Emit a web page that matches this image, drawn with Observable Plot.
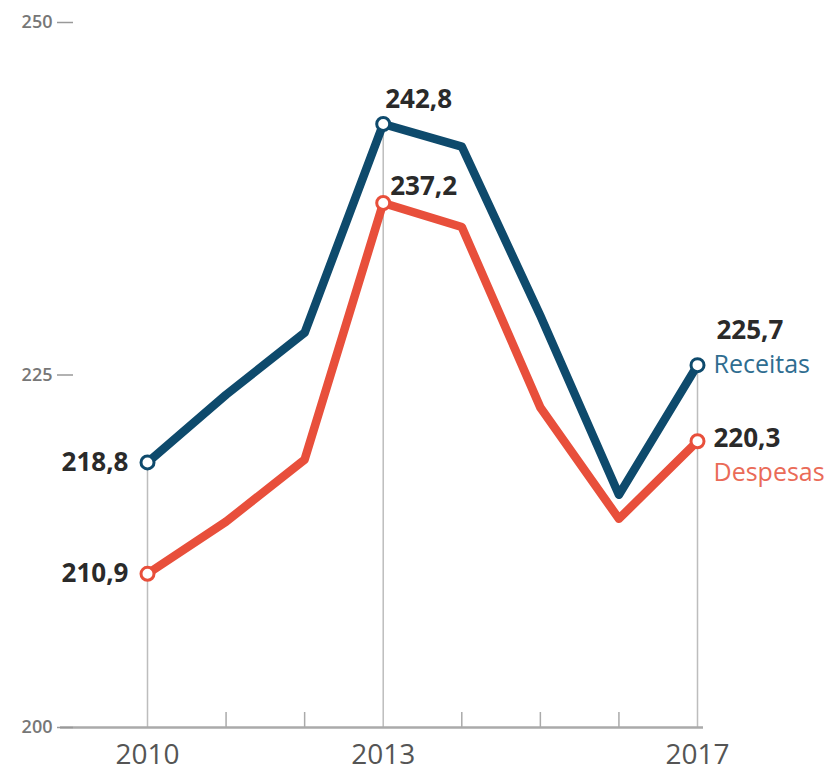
<!DOCTYPE html>
<html><head><meta charset="utf-8">
<script src="https://cdn.jsdelivr.net/npm/d3@7"></script>
<script src="https://cdn.jsdelivr.net/npm/@observablehq/plot@0.6"></script>
<style>body{margin:0;background:#fff;} #chart svg{display:block}</style>
</head><body><div id="chart"></div>
<script>
const years = [2010, 2011, 2012, 2013, 2014, 2015, 2016, 2017];
const receitas = [218.8, 223.6, 228.0, 242.8, 241.2, 229.2, 216.5, 225.7];
const despesas = [210.9, 214.6, 219.0, 237.2, 235.5, 222.7, 214.8, 220.3];
const yTicks = [200, 225, 250];
const labeledYears = [2010, 2013, 2017];
const minorYears = [2011, 2012, 2014, 2015, 2016];
const seriesNames = ["Receitas", "Despesas"];
const colors = ["#0e4a6c", "#e84f3b"];
const nameColors = ["#2f6d90", "#ea6b58"];

const fmt = v => v.toFixed(1).replace(".", ",");
const idx = y => years.indexOf(y);
const lab = "#2a2a2a";
const FS = 26;

const chart = Plot.plot({
  width: 833, height: 774,
  marginTop: 22, marginBottom: 47, marginLeft: 147, marginRight: 136,
  x: {domain: [2010, 2017]},
  y: {domain: [200, 250]},
  style: {fontFamily: "'Open Sans', sans-serif", background: "#fff"},
  marks: [
    Plot.ruleX(labeledYears, {x: d => d, y1: 200, y2: d => receitas[idx(d)], stroke: "#bdbdbd", strokeWidth: 1.5}),
    Plot.ruleX(minorYears, {x: d => d, y1: 200, y2: 200, insetTop: -15, stroke: "#aaa", strokeWidth: 1.5}),
    Plot.ruleY([200], {insetLeft: -87, insetRight: -6, stroke: "#aaa", strokeWidth: 2.5}),
    Plot.axisY({ticks: yTicks, tickSize: 16, tickPadding: 5, dx: -74, fontSize: 18, fontWeight: 600, fill: "#777", stroke: "#999", strokeWidth: 1.5}),
    Plot.axisX({ticks: labeledYears, tickFormat: d => String(d), tickSize: 0, tickPadding: 17, fontSize: 28, fill: "#555"}),
    Plot.line(years, {x: years, y: receitas, stroke: colors[0], strokeWidth: 8.5, strokeLinejoin: "round"}),
    Plot.line(years, {x: years, y: despesas, stroke: colors[1], strokeWidth: 8.5, strokeLinejoin: "round"}),
    Plot.dot(labeledYears, {x: d => d, y: d => receitas[idx(d)], r: 6.5, fill: "white", stroke: colors[0], strokeWidth: 3}),
    Plot.dot(labeledYears, {x: d => d, y: d => despesas[idx(d)], r: 6.5, fill: "white", stroke: colors[1], strokeWidth: 3}),
    // 2010 labels
    Plot.text([2010], {x: d => d, y: d => receitas[idx(d)], text: d => fmt(receitas[idx(d)]), dx: -19, textAnchor: "end", fontSize: FS, fontWeight: 700, fill: lab}),
    Plot.text([2010], {x: d => d, y: d => despesas[idx(d)], text: d => fmt(despesas[idx(d)]), dx: -19, textAnchor: "end", fontSize: FS, fontWeight: 700, fill: lab}),
    // 2013 labels
    Plot.text([2013], {x: d => d, y: d => receitas[idx(d)], text: d => fmt(receitas[idx(d)]), dx: 2, dy: -24, textAnchor: "start", fontSize: FS, fontWeight: 700, fill: lab}),
    Plot.text([2013], {x: d => d, y: d => despesas[idx(d)], text: d => fmt(despesas[idx(d)]), dx: 7, dy: -16, textAnchor: "start", fontSize: FS, fontWeight: 700, fill: lab}),
    // 2017 labels
    Plot.text([2017], {x: d => d, y: d => receitas[idx(d)], text: d => fmt(receitas[idx(d)]), dx: 19, dy: -34, textAnchor: "start", fontSize: FS, fontWeight: 700, fill: lab}),
    Plot.text([2017], {x: d => d, y: d => despesas[idx(d)], text: d => fmt(despesas[idx(d)]), dx: 16, dy: -3, textAnchor: "start", fontSize: FS, fontWeight: 700, fill: lab}),
    Plot.text([2017], {x: d => d, y: d => receitas[idx(d)], text: () => seriesNames[0], dx: 16, dy: 0, textAnchor: "start", fontSize: 25, fill: nameColors[0]}),
    Plot.text([2017], {x: d => d, y: d => despesas[idx(d)], text: () => seriesNames[1], dx: 16, dy: 32, textAnchor: "start", fontSize: 25, fill: nameColors[1]})
  ]
});
document.getElementById("chart").appendChild(chart);
</script>
</body></html>
